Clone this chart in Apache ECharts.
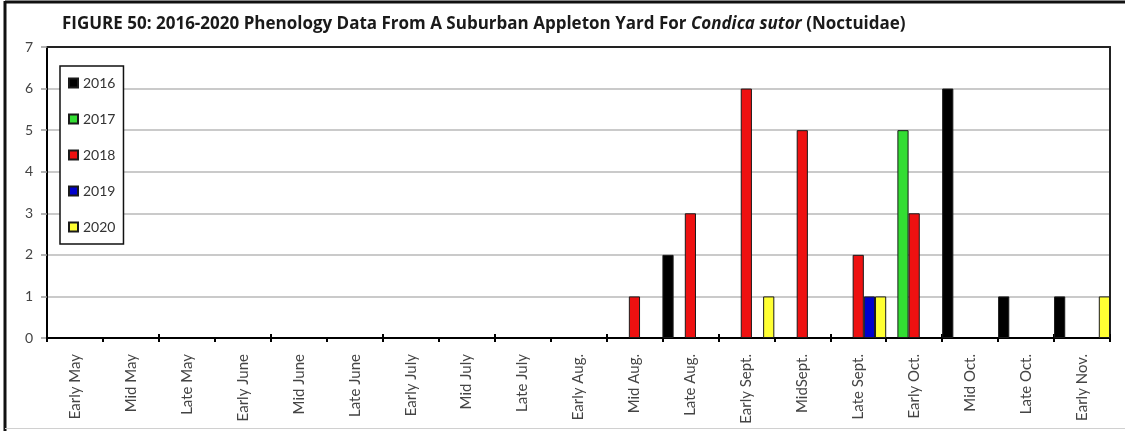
<!DOCTYPE html>
<html>
<head>
<meta charset="utf-8">
<script src="https://cdn.jsdelivr.net/npm/echarts@6/dist/echarts.min.js"></script>
<style>
  html, body { margin: 0; padding: 0; background: #fff; }
  #chart { width: 1125px; height: 431px; }
</style>
</head>
<body>
<div id="chart"></div>
<script>
// Survey periods (x axis)
const periods = [
  'Early May', 'Mid May', 'Late May', 'Early June', 'Mid June', 'Late June',
  'Early July', 'Mid July', 'Late July', 'Early Aug.', 'Mid Aug.', 'Late Aug.',
  'Early Sept.', 'MidSept.', 'Late Sept.', 'Early Oct.', 'Mid Oct.', 'Late Oct.', 'Early Nov.'
];

// Counts per period for each year
const y2016 = [0, 0, 0, 0, 0, 0, 0, 0, 0, 0, 0, 2, 0, 0, 0, 0, 6, 1, 1];
const y2017 = [0, 0, 0, 0, 0, 0, 0, 0, 0, 0, 0, 0, 0, 0, 0, 5, 0, 0, 0];
const y2018 = [0, 0, 0, 0, 0, 0, 0, 0, 0, 0, 1, 3, 6, 5, 2, 3, 0, 0, 0];
const y2019 = [0, 0, 0, 0, 0, 0, 0, 0, 0, 0, 0, 0, 0, 0, 1, 0, 0, 0, 0];
const y2020 = [0, 0, 0, 0, 0, 0, 0, 0, 0, 0, 0, 0, 1, 0, 1, 0, 0, 0, 1];

const years = ['2016', '2017', '2018', '2019', '2020'];
const yearData = [y2016, y2017, y2018, y2019, y2020];
const yearColors = ['#000000', '#33dd33', '#ee1111', '#0000cc', '#ffff33'];

// Y axis range
const yMin = 0, yMax = 7, yStep = 1;

const FONT = 'Lato, "Liberation Sans", sans-serif';
const TITLE_FONT = '"Open Sans", "Liberation Sans", sans-serif';

const chart = echarts.init(document.getElementById('chart'), null, { renderer: 'canvas' });

const series = years.map((name, i) => ({
  name: name,
  type: 'bar',
  xAxisIndex: 0,
  yAxisIndex: 0,
  barGap: '0%',
  barCategoryGap: '0%',
  itemStyle: {
    color: yearColors[i],
    borderColor: '#1a1a1a',
    borderWidth: 1
  },
  emphasis: { disabled: true },
  data: yearData[i].map(v => (v === 0 ? '-' : v))
}));

chart.setOption({
  animation: false,
  backgroundColor: '#ffffff',
  title: {
    left: 57,
    top: 11,
    text: '{b|FIGURE 50: 2016-2020 Phenology Data From A Suburban Appleton Yard For }{i|Condica sutor}{b| (Noctuidae)}',
    textStyle: {
      rich: {
        b: { fontFamily: TITLE_FONT, fontWeight: 'bold', fontSize: 17, color: '#1a1a1a' },
        i: { fontFamily: TITLE_FONT, fontWeight: 'bold', fontStyle: 'italic', fontSize: 17, color: '#1a1a1a' }
      }
    }
  },
  legend: {
    orient: 'vertical',
    left: 60,
    top: 66,
    data: years,
    icon: 'rect',
    itemWidth: 9,
    itemHeight: 9,
    itemGap: 22,
    padding: [10, 8, 10, 8],
    borderColor: '#111',
    borderWidth: 1.5,
    backgroundColor: '#fff',
    textStyle: { fontFamily: FONT, fontSize: 14, color: '#333' },
    selectedMode: false
  },
  grid: { left: 47, right: 15, top: 47, bottom: 93 },
  xAxis: [
    {
      type: 'category',
      data: periods,
      position: 'bottom',
      axisLine: { lineStyle: { color: '#000', width: 2 } },
      axisTick: { show: true, inside: false, length: 4, lineStyle: { color: '#000', width: 2 } },
      axisLabel: {
        rotate: 90,
        margin: 16,
        interval: 0,
        fontFamily: FONT,
        fontSize: 15,
        color: '#444'
      },
      splitLine: { show: false }
    },
    {
      // inner half of the cross-shaped category ticks
      type: 'category',
      data: periods,
      position: 'bottom',
      axisLine: { show: false },
      axisTick: { show: true, inside: true, length: 4, lineStyle: { color: '#000', width: 2 } },
      axisLabel: { show: false },
      splitLine: { show: false }
    },
    {
      // top frame of the plot area
      type: 'category',
      data: periods,
      position: 'top',
      axisLine: { lineStyle: { color: '#222', width: 2 } },
      axisTick: { show: false },
      axisLabel: { show: false },
      splitLine: { show: false }
    }
  ],
  yAxis: [
    {
      type: 'value',
      min: yMin,
      max: yMax,
      interval: yStep,
      axisLine: { show: true, lineStyle: { color: '#000', width: 2 } },
      axisTick: { show: true, length: 6, lineStyle: { color: '#999', width: 1.5 } },
      axisLabel: { margin: 14, fontFamily: FONT, fontSize: 14, color: '#444' },
      splitLine: { show: true, lineStyle: { color: '#b8b8b8', width: 1.5 } }
    },
    {
      // right frame of the plot area
      type: 'value',
      min: yMin,
      max: yMax,
      interval: yStep,
      position: 'right',
      axisLine: { show: true, lineStyle: { color: '#222', width: 2 } },
      axisTick: { show: false },
      axisLabel: { show: false },
      splitLine: { show: false }
    }
  ],
  graphic: [
    // outer frame around the figure
    { type: 'line', z: 100, shape: { x1: 5, y1: 2, x2: 1125, y2: 2 }, style: { stroke: '#111', lineWidth: 3 } },
    { type: 'line', z: 100, shape: { x1: 5, y1: 1, x2: 5, y2: 431 }, style: { stroke: '#111', lineWidth: 3 } },
    { type: 'line', z: 100, shape: { x1: 5, y1: 428.5, x2: 1125, y2: 428.5 }, style: { stroke: '#d0d0d0', lineWidth: 1 } }
  ],
  series: series
});
</script>
</body>
</html>
